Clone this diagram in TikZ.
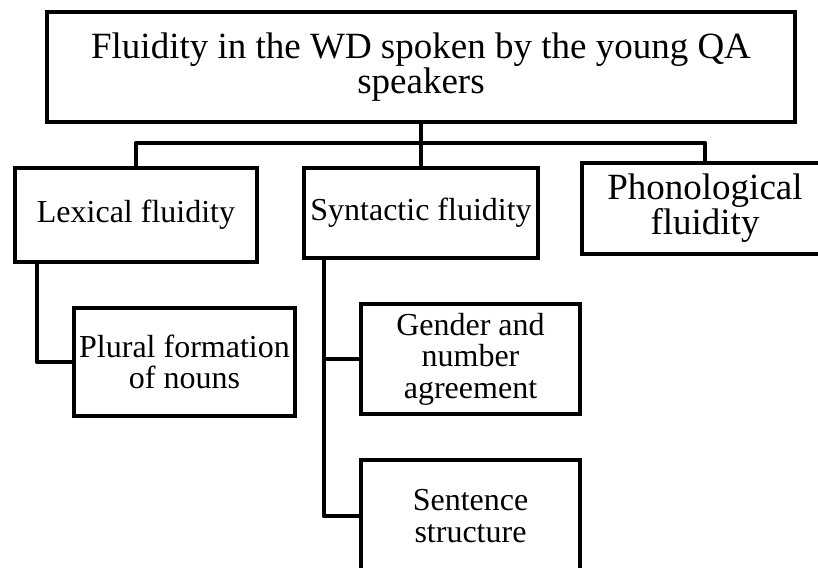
\documentclass[tikz,border=0pt]{standalone}
\usepackage{fontspec}
\setmainfont{Liberation Serif}
\begin{document}
\begin{tikzpicture}[x=1pt, y=-1pt,
    box/.style={draw=black, line width=4.5pt, rectangle, inner sep=0pt, align=center, fill=white},
    link/.style={draw=black, line width=4.5pt, line join=round}]
    \useasboundingbox (0,0) rectangle (818,567);

    % Root of the tree
    \node[box, minimum width=748pt, minimum height=110pt, font=\fontsize{37}{35}\selectfont] (root) at (421,67)
        {Fluidity in the WD spoken by the young QA\\speakers};

    % First level: the three kinds of fluidity
    \node[box, minimum width=242pt, minimum height=94pt, font=\fontsize{32}{31.5}\selectfont] (lexical) at (136,215) {Lexical fluidity};
    \node[box, minimum width=234pt, minimum height=90pt, font=\fontsize{32}{31.5}\selectfont] (syntactic) at (421,213) {Syntactic fluidity};
    \node[box, minimum width=246pt, minimum height=91pt, font=\fontsize{37}{35}\selectfont] (phonological) at (705,208.5) {Phonological\\fluidity};

    % Second level
    \node[box, minimum width=221pt, minimum height=108pt, font=\fontsize{32}{31.5}\selectfont] (plural) at (184.5,362) {Plural formation\\of nouns};
    \node[box, minimum width=219pt, minimum height=110pt, font=\fontsize{32}{31.5}\selectfont] (gender) at (470.5,359) {Gender and\\number\\agreement};
    \node[box, minimum width=219pt, minimum height=112pt, font=\fontsize{32}{31.5}\selectfont] (sentence) at (470.5,516) {Sentence\\structure};

    % Connectors from the root
    \coordinate (split) at (421,143);
    \draw[link] (root.south) -- (split);
    \draw[link] (lexical.north) |- (split) -| (phonological.north);
    \draw[link] (syntactic.north) -- (split);

    % Connectors below lexical and syntactic
    \coordinate (lexfoot) at ([xshift=24pt]lexical.south west);
    \coordinate (synfoot) at ([xshift=22pt]syntactic.south west);
    \draw[link] (lexfoot) |- (plural.west);
    \draw[link] (synfoot) |- (sentence.west);
    \draw[link] (gender.west) -- (gender.west -| synfoot);

\end{tikzpicture}
\end{document}
